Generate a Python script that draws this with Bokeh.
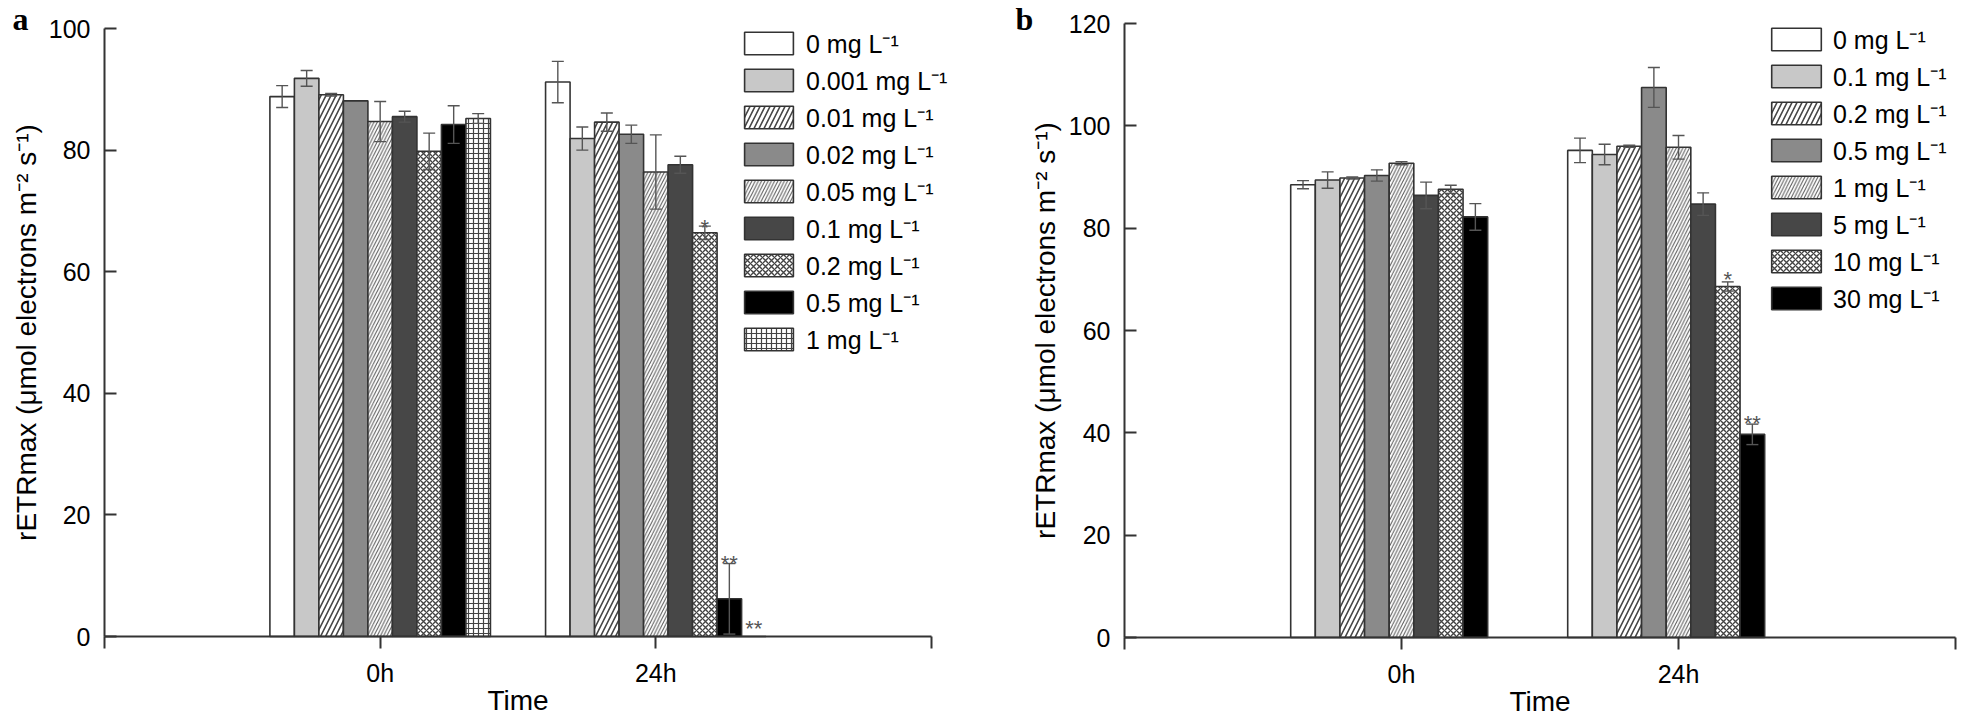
from bokeh.plotting import figure
from bokeh.models import (Range1d, FixedTicker, ColumnDataSource, Whisker, TeeHead,
                          Legend, LegendItem, Label)
from bokeh.layouts import row
from bokeh.embed import file_html
from bokeh.resources import INLINE
from bokeh.core.properties import value

# ---------------- data ----------------
times = ["0h", "24h"]

conc_a = ["0 mg L⁻¹", "0.001 mg L⁻¹", "0.01 mg L⁻¹", "0.02 mg L⁻¹", "0.05 mg L⁻¹",
          "0.1 mg L⁻¹", "0.2 mg L⁻¹", "0.5 mg L⁻¹", "1 mg L⁻¹"]
a_0h = [88.8, 91.8, 89.1, 88.1, 84.7, 85.5, 79.8, 84.2, 85.2]
a_0h_err = [1.8, 1.3, 0.2, 0.0, 3.3, 0.9, 3.0, 3.1, 0.8]
a_24h = [91.2, 81.9, 84.6, 82.6, 76.4, 77.6, 66.4, 6.2, 0.0]
a_24h_err = [3.4, 1.9, 1.5, 1.5, 6.1, 1.4, 1.1, 5.8, 0.0]
a_mark_time = [1, 1, 1]
a_mark_series = [6, 7, 8]
a_mark_text = ["*", "**", "**"]
a_mark_y = [67.3, 12.0, 1.3]

conc_b = ["0 mg L⁻¹", "0.1 mg L⁻¹", "0.2 mg L⁻¹", "0.5 mg L⁻¹", "1 mg L⁻¹",
          "5 mg L⁻¹", "10 mg L⁻¹", "30 mg L⁻¹"]
b_0h = [88.5, 89.4, 89.8, 90.3, 92.7, 86.4, 87.6, 82.2]
b_0h_err = [0.8, 1.6, 0.2, 1.1, 0.3, 2.6, 0.8, 2.6]
b_24h = [95.2, 94.4, 96.0, 107.5, 95.8, 84.7, 68.6, 39.7]
b_24h_err = [2.4, 2.0, 0.2, 3.9, 2.3, 2.2, 0.9, 2.0]
b_mark_time = [1, 1]
b_mark_series = [6, 7]
b_mark_text = ["*", "**"]
b_mark_y = [70.0, 41.8]

y_label = "rETRmax (μmol electrons m⁻² s⁻¹)"

# ---------------- styles ----------------
HATCH = "#444444"
styles = [
    dict(fill_color="white"),
    dict(fill_color="#c8c8c8"),
    dict(fill_color="white", hatch_pattern="/", hatch_scale=10, hatch_weight=1.6, hatch_color=HATCH),
    dict(fill_color="#8a8a8a"),
    dict(fill_color="white", hatch_pattern="/", hatch_scale=6.5, hatch_weight=1.0, hatch_color="#555555"),
    dict(fill_color="#474747"),
    dict(fill_color="white", hatch_pattern="x", hatch_scale=6, hatch_weight=1.4, hatch_color=HATCH),
    dict(fill_color="black"),
    dict(fill_color="white", hatch_pattern="+", hatch_scale=5, hatch_weight=1.2, hatch_color=HATCH),
]

FONT = "Liberation Sans"
NSLOT = 9
GROUP = 0.8


def make_panel(conc, v0, e0, v24, e24, mt, ms, mtext, my, ymax, ystep,
               W, H, ax_left, ax_right, ax_top, ax_bottom, letter, letter_x, legend_xy,
               glyph_w, label_standoff, ylab_standoff):
    uy = (ax_bottom - ax_top) / ymax        # px per y unit
    ux = (ax_right - ax_left) / 3.0         # px per x unit
    p = figure(width=W, height=H,
               x_range=Range1d(-ax_left / ux, (W - ax_left) / ux),
               y_range=Range1d(-(H - ax_bottom) / uy, ax_bottom / uy),
               output_backend="svg", toolbar_location=None,
               min_border_left=0, min_border_right=0, min_border_top=0, min_border_bottom=0)
    p.title.visible = False
    p.outline_line_color = None
    p.grid.visible = False
    w = GROUP / NSLOT
    items = []
    for i, lab in enumerate(conc):
        off = (i - (NSLOT - 1) / 2) * w
        src = ColumnDataSource(dict(x=[1 + off, 2 + off], top=[v0[i], v24[i]]))
        r = p.vbar(x="x", top="top", width=w, bottom=0, source=src,
                   line_color="#333333", line_width=1.6, **styles[i])
        items.append(LegendItem(label=lab, renderers=[r]))
    # error bars
    xs, lo, hi = [], [], []
    for i in range(len(conc)):
        off = (i - (NSLOT - 1) / 2) * w
        for t, (v, e) in enumerate([(v0[i], e0[i]), (v24[i], e24[i])]):
            if e > 0:
                xs.append(t + 1 + off)
                lo.append(v - e)
                hi.append(v + e)
    esrc = ColumnDataSource(dict(x=xs, lower=lo, upper=hi))
    wh = Whisker(source=esrc, base="x", lower="lower", upper="upper", dimension="height",
                 line_color="#555555", line_width=1.4, level="annotation",
                 upper_head=TeeHead(size=12, line_color="#555555", line_width=1.4),
                 lower_head=TeeHead(size=12, line_color="#555555", line_width=1.4))
    p.add_layout(wh)
    # significance marks
    mx = [mt[k] + 1 + (ms[k] - (NSLOT - 1) / 2) * w for k in range(len(mt))]
    msrc = ColumnDataSource(dict(x=mx, y=my, t=mtext))
    p.text(x="x", y="y", text="t", source=msrc, text_align="center",
           text_baseline="alphabetic", text_font=value(FONT), text_font_size="22px",
           text_color="#555555")
    # legend
    leg = Legend(items=items, location=legend_xy, glyph_width=glyph_w, glyph_height=28,
                 label_height=37, spacing=0, padding=0, margin=0,
                 label_standoff=label_standoff, border_line_color=None,
                 background_fill_alpha=0, label_text_font=FONT,
                 label_text_font_size="25px", label_text_color="black")
    p.add_layout(leg)
    # axes (drawn at data 0 inside the frame)
    p.xaxis.ticker = FixedTicker(ticks=[0, 1, 2, 3])
    p.xaxis.major_label_overrides = {0: "", 1: times[0], 2: times[1], 3: ""}
    p.xaxis.bounds = (0, 3)
    p.xaxis.fixed_location = 0
    p.yaxis.ticker = FixedTicker(ticks=list(range(0, ymax + 1, ystep)))
    p.yaxis.bounds = (0, ymax)
    p.yaxis.fixed_location = 0
    for ax in (p.xaxis[0], p.yaxis[0]):
        ax.axis_line_color = "#333333"
        ax.axis_line_width = 2
        ax.major_tick_line_color = "#333333"
        ax.major_tick_line_width = 2
        ax.minor_tick_line_color = None
        ax.major_label_text_font = FONT
        ax.major_label_text_font_size = "25px"
        ax.major_label_text_color = "black"
        ax.axis_label_text_font = FONT
        ax.axis_label_text_font_style = "normal"
        ax.axis_label_text_color = "black"
    p.xaxis.major_tick_out = 12
    p.xaxis.major_tick_in = 0
    p.xaxis.major_label_standoff = 10
    p.xaxis.axis_label = "Time"
    p.xaxis.axis_label_text_font_size = "28px"
    p.xaxis.axis_label_standoff = -5
    p.yaxis.major_tick_out = 0
    p.yaxis.major_tick_in = 12
    p.yaxis.major_label_standoff = 14
    p.yaxis.axis_label = y_label
    p.yaxis.axis_label_text_font_size = "28px"
    p.yaxis.axis_label_standoff = ylab_standoff
    # panel letter
    p.add_layout(Label(x=letter_x, y=H, x_units="screen", y_units="screen",
                       text=letter, text_font="Liberation Serif", text_font_style="bold",
                       text_font_size="32px", text_color="black", text_baseline="top"))
    return p


pa = make_panel(conc_a, a_0h, a_0h_err, a_24h, a_24h_err,
                a_mark_time, a_mark_series, a_mark_text, a_mark_y, 100, 20,
                1000, 720, 104, 931, 28, 636, "a", 12, (738, 363), 61, 7, 4)
pb = make_panel(conc_b, b_0h, b_0h_err, b_24h, b_24h_err,
                b_mark_time, b_mark_series, b_mark_text, b_mark_y, 120, 20,
                961, 720, 124, 955, 23, 637, "b", 15, (765, 404), 62, 6, 5)

layout = row(pa, pb)
open("out.html", "w").write(file_html(layout, INLINE))
